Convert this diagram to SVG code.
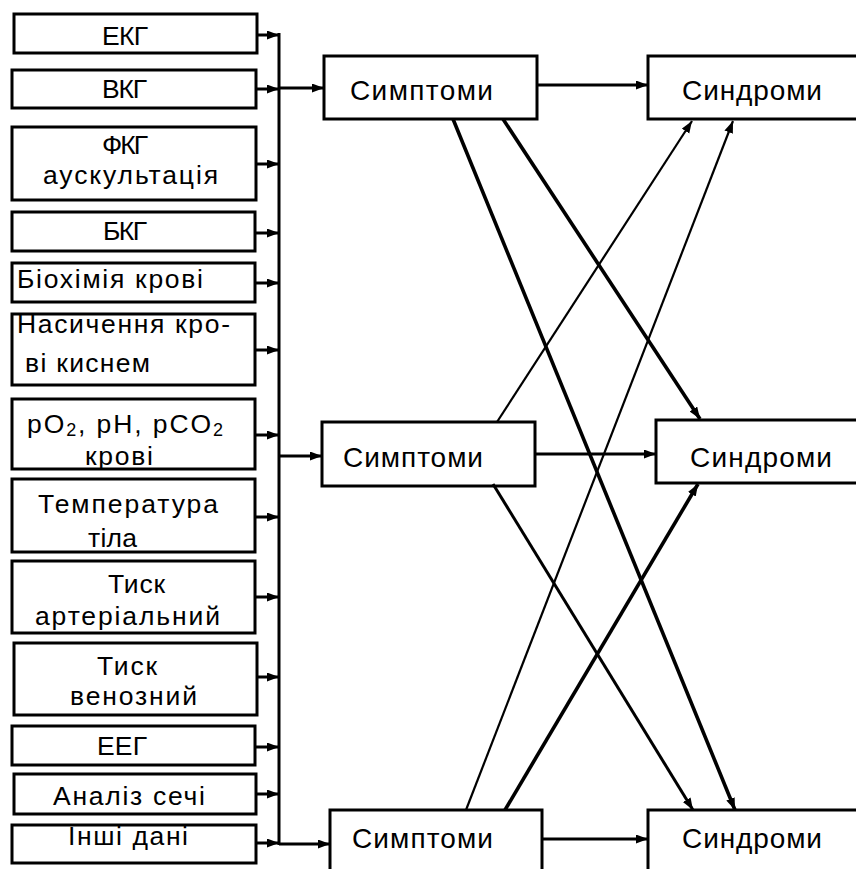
<svg xmlns="http://www.w3.org/2000/svg" width="856" height="869" viewBox="0 0 856 869">
  <style>
    .box { fill: #fff; stroke: #000; stroke-width: 3; }
    .lbl { font-family: "Liberation Sans", Arial, sans-serif; font-size: 26.5px; fill: #000; }
    .big { font-size: 28px; }
    .wire { stroke: #000; stroke-width: 3; fill: none; }
    .thin { stroke-width: 2.2; }
    .thick { stroke-width: 3.6; }
  </style>
  <defs>
    <marker id="arr" markerUnits="userSpaceOnUse" markerWidth="13" markerHeight="10" refX="12" refY="4.5" orient="auto">
      <path d="M0,0 L12,4.5 L0,9 z" fill="#000"/>
    </marker>
  </defs>

  <rect width="856" height="869" fill="#fff"/>

  <!-- source data boxes -->
  <g id="n-ekg"><rect class="box" x="14" y="14" width="243" height="39"/><text class="lbl" x="102" y="45" textLength="46">ЕКГ</text></g>
  <g id="n-vkg"><rect class="box" x="12" y="70" width="244" height="38"/><text class="lbl" x="102" y="98" textLength="45">ВКГ</text></g>
  <g id="n-fkg"><rect class="box" x="12" y="127" width="244" height="73"/><text class="lbl" x="102" y="154" textLength="46">ФКГ</text><text class="lbl" x="43" y="184" textLength="175">аускультація</text></g>
  <g id="n-bkg"><rect class="box" x="12" y="212" width="243" height="39"/><text class="lbl" x="103" y="240" textLength="44">БКГ</text></g>
  <g id="n-bio"><rect class="box" x="12" y="263" width="243" height="39"/><text class="lbl" x="17" y="288" textLength="186">Біохімія крові</text></g>
  <g id="n-sat"><rect class="box" x="12" y="314" width="243" height="71"/><text class="lbl" x="17" y="333" textLength="213">Насичення кро-</text><text class="lbl" x="25" y="372" textLength="125">ві киснем</text></g>
  <g id="n-gas"><rect class="box" x="12" y="399" width="243" height="70"/><text class="lbl" x="27" y="433" textLength="196">pO<tspan font-size="18" dy="3">2</tspan><tspan dy="-3">, pH, pCO</tspan><tspan font-size="18" dy="3">2</tspan></text><text class="lbl" x="85" y="465" textLength="68">крові</text></g>
  <g id="n-temp"><rect class="box" x="12" y="479" width="243" height="73"/><text class="lbl" x="38" y="513" textLength="180">Температура</text><text class="lbl" x="88" y="547" textLength="49">тіла</text></g>
  <g id="n-art"><rect class="box" x="12" y="561" width="243" height="72"/><text class="lbl" x="108" y="593" textLength="57">Тиск</text><text class="lbl" x="35" y="625" textLength="185">артеріальний</text></g>
  <g id="n-ven"><rect class="box" x="14" y="643" width="243" height="72"/><text class="lbl" x="97" y="675" textLength="60">Тиск</text><text class="lbl" x="70" y="705" textLength="127">венозний</text></g>
  <g id="n-eeg"><rect class="box" x="12" y="726" width="243" height="39"/><text class="lbl" x="97" y="755" textLength="50">ЕЕГ</text></g>
  <g id="n-urine"><rect class="box" x="14" y="774" width="242" height="40"/><text class="lbl" x="53" y="805" textLength="152">Аналіз сечі</text></g>
  <g id="n-other"><rect class="box" x="12" y="825" width="244" height="38"/><text class="lbl" x="68" y="845" textLength="120">Інші дані</text></g>

  <!-- symptom boxes -->
  <g id="n-sym1"><rect class="box" x="324" y="56" width="213" height="63"/><text class="lbl big" x="350" y="100" textLength="143">Симптоми</text></g>
  <g id="n-sym2"><rect class="box" x="322" y="422" width="213" height="64"/><text class="lbl big" x="343" y="467" textLength="140">Симптоми</text></g>
  <g id="n-sym3"><rect class="box" x="330" y="810" width="212" height="80"/><text class="lbl big" x="352" y="848" textLength="141">Симптоми</text></g>

  <!-- syndrome boxes -->
  <g id="n-syn1"><rect class="box" x="648" y="56" width="240" height="63"/><text class="lbl big" x="682" y="100" textLength="140">Синдроми</text></g>
  <g id="n-syn2"><rect class="box" x="656" y="420" width="240" height="63"/><text class="lbl big" x="690" y="467" textLength="142">Синдроми</text></g>
  <g id="n-syn3"><rect class="box" x="648" y="810" width="240" height="80"/><text class="lbl big" x="682" y="848" textLength="140">Синдроми</text></g>

  <!-- connectors -->
  <g id="connectors">
    <!-- collecting bus -->
    <line class="wire" x1="279" y1="33" x2="279" y2="845"/>
    <!-- inputs into the bus -->
    <line class="wire" x1="257" y1="35" x2="279" y2="35" marker-end="url(#arr)"/>
    <line class="wire" x1="256" y1="89" x2="279" y2="89" marker-end="url(#arr)"/>
    <line class="wire" x1="256" y1="164" x2="279" y2="164" marker-end="url(#arr)"/>
    <line class="wire" x1="255" y1="233" x2="279" y2="233" marker-end="url(#arr)"/>
    <line class="wire" x1="255" y1="283" x2="279" y2="283" marker-end="url(#arr)"/>
    <line class="wire" x1="255" y1="350" x2="279" y2="350" marker-end="url(#arr)"/>
    <line class="wire" x1="255" y1="435" x2="279" y2="435" marker-end="url(#arr)"/>
    <line class="wire" x1="255" y1="517" x2="279" y2="517" marker-end="url(#arr)"/>
    <line class="wire" x1="255" y1="597" x2="279" y2="597" marker-end="url(#arr)"/>
    <line class="wire" x1="257" y1="677" x2="279" y2="677" marker-end="url(#arr)"/>
    <line class="wire" x1="255" y1="747" x2="279" y2="747" marker-end="url(#arr)"/>
    <line class="wire" x1="256" y1="794" x2="279" y2="794" marker-end="url(#arr)"/>
    <line class="wire" x1="256" y1="843" x2="279" y2="843" marker-end="url(#arr)"/>
    <!-- bus to symptoms -->
    <line class="wire" x1="279" y1="88" x2="324" y2="88" marker-end="url(#arr)"/>
    <line class="wire" x1="279" y1="456" x2="322" y2="456" marker-end="url(#arr)"/>
    <line class="wire" x1="279" y1="844" x2="330" y2="844" marker-end="url(#arr)"/>
    <!-- symptoms to syndromes, straight -->
    <line class="wire" x1="537" y1="85" x2="648" y2="85" marker-end="url(#arr)"/>
    <line class="wire" x1="535" y1="454" x2="656" y2="454" marker-end="url(#arr)"/>
    <line class="wire" x1="542" y1="839" x2="648" y2="839" marker-end="url(#arr)"/>
    <!-- cross links -->
    <line class="wire thick" x1="453" y1="119" x2="735" y2="810" marker-end="url(#arr)"/>
    <line class="wire thick" x1="503" y1="119" x2="700" y2="419" marker-end="url(#arr)"/>
    <line class="wire thin" x1="497" y1="422" x2="692" y2="121" marker-end="url(#arr)"/>
    <line class="wire" x1="493" y1="484" x2="693" y2="810" marker-end="url(#arr)"/>
    <line class="wire thin" x1="466" y1="810" x2="733" y2="121" marker-end="url(#arr)"/>
    <line class="wire thick" x1="505" y1="810" x2="698" y2="484" marker-end="url(#arr)"/>
  </g>
</svg>
